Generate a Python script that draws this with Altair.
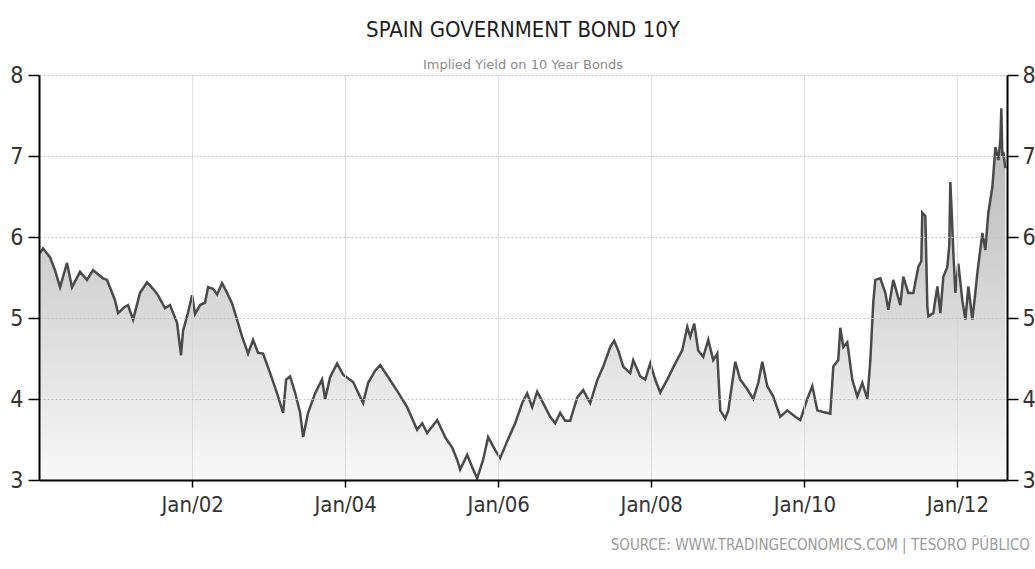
import altair as alt
import pandas as pd

# decimal years since 2000-01-01 and yield values (%)
t_years = [
    0.013, 0.052, 0.144, 0.209, 0.275, 0.366, 0.431, 0.536, 0.627, 0.706,
    0.837, 0.889, 0.993, 1.033, 1.124, 1.163, 1.229, 1.320, 1.412, 1.490,
    1.556, 1.647, 1.712, 1.804, 1.856, 1.882, 1.948, 2.000, 2.039, 2.105,
    2.170, 2.209, 2.275, 2.327, 2.392, 2.458, 2.523, 2.588, 2.654, 2.732,
    2.797, 2.863, 2.928, 3.020, 3.111, 3.190, 3.229, 3.281, 3.346, 3.412,
    3.451, 3.516, 3.608, 3.699, 3.739, 3.804, 3.895, 3.974, 4.105, 4.235,
    4.301, 4.392, 4.458, 4.549, 4.680, 4.810, 4.941, 5.007, 5.072, 5.203,
    5.307, 5.399, 5.464, 5.503, 5.595, 5.660, 5.725, 5.804, 5.869, 5.961,
    6.026, 6.118, 6.222, 6.314, 6.379, 6.444, 6.510, 6.588, 6.680, 6.745,
    6.810, 6.876, 6.941, 7.033, 7.111, 7.203, 7.294, 7.373, 7.464, 7.516,
    7.569, 7.634, 7.725, 7.765, 7.856, 7.922, 7.987, 8.052, 8.118, 8.209,
    8.314, 8.405, 8.471, 8.510, 8.562, 8.614, 8.680, 8.745, 8.810, 8.863,
    8.902, 8.967, 9.007, 9.059, 9.098, 9.163, 9.255, 9.333, 9.399, 9.451,
    9.516, 9.595, 9.686, 9.778, 9.882, 9.948, 10.039, 10.105, 10.170, 10.248,
    10.340, 10.379, 10.444, 10.471, 10.510, 10.562, 10.627, 10.693, 10.758, 10.824,
    10.863, 10.902, 10.928, 10.993, 11.059, 11.098, 11.163, 11.255, 11.294, 11.359,
    11.425, 11.490, 11.529, 11.542, 11.582, 11.608, 11.621, 11.686, 11.739, 11.778,
    11.817, 11.869, 11.895, 11.908, 11.922, 11.948, 11.974, 12.013, 12.065, 12.105,
    12.144, 12.196, 12.235, 12.261, 12.327, 12.366, 12.405, 12.458, 12.497, 12.536,
    12.562, 12.575, 12.588, 12.601, 12.627,
]
yields = [
    5.80, 5.86, 5.75, 5.59, 5.38, 5.68, 5.38, 5.57, 5.47, 5.59,
    5.49, 5.47, 5.22, 5.06, 5.14, 5.16, 4.98, 5.31, 5.44, 5.36,
    5.28, 5.12, 5.16, 4.94, 4.54, 4.84, 5.07, 5.28, 5.05, 5.16,
    5.19, 5.38, 5.36, 5.29, 5.43, 5.31, 5.18, 4.98, 4.77, 4.56,
    4.73, 4.57, 4.56, 4.32, 4.07, 3.83, 4.24, 4.28, 4.08, 3.83,
    3.53, 3.83, 4.07, 4.24, 4.00, 4.27, 4.44, 4.30, 4.21, 3.95,
    4.20, 4.35, 4.42, 4.29, 4.10, 3.90, 3.62, 3.70, 3.58, 3.74,
    3.53, 3.40, 3.25, 3.13, 3.31, 3.16, 3.02, 3.25, 3.53, 3.37,
    3.27, 3.48, 3.70, 3.95, 4.07, 3.90, 4.09, 3.95, 3.78, 3.70,
    3.83, 3.73, 3.73, 4.02, 4.11, 3.95, 4.23, 4.40, 4.64, 4.72,
    4.60, 4.40, 4.32, 4.48, 4.28, 4.24, 4.44, 4.24, 4.08, 4.24,
    4.44, 4.60, 4.89, 4.77, 4.93, 4.60, 4.52, 4.73, 4.48, 4.56,
    3.86, 3.76, 3.86, 4.20, 4.46, 4.24, 4.12, 4.00, 4.20, 4.46,
    4.16, 4.03, 3.78, 3.86, 3.78, 3.74, 4.00, 4.16, 3.86, 3.84,
    3.82, 4.40, 4.48, 4.88, 4.64, 4.70, 4.24, 4.03, 4.20, 4.00,
    4.48, 5.20, 5.47, 5.49, 5.31, 5.10, 5.47, 5.16, 5.51, 5.31,
    5.31, 5.63, 5.70, 6.30, 6.26, 5.14, 5.02, 5.06, 5.39, 5.06,
    5.51, 5.63, 5.90, 6.68, 6.40, 5.80, 5.31, 5.67, 5.22, 4.98,
    5.39, 4.98, 5.31, 5.55, 6.05, 5.84, 6.30, 6.62, 7.11, 6.95,
    7.20, 7.59, 7.00, 7.05, 6.85,
]

tick_years = [2002, 2004, 2006, 2008, 2010, 2012]
y_ticks = [3, 4, 5, 6, 7, 8]
y_base = 3

title_text = "SPAIN GOVERNMENT BOND 10Y"
subtitle_text = "Implied Yield on 10 Year Bonds"
source_text = "SOURCE:  WWW.TRADINGECONOMICS.COM  |  TESORO  PÚBLICO"

start = pd.Timestamp("2000-01-01")
df = pd.DataFrame({
    "date": [start + pd.Timedelta(days=t * 365.25) for t in t_years],
    "v": yields,
})

NARROW = "'Liberation Sans Narrow', 'DejaVu Sans Condensed', 'Arial Narrow', sans-serif"

xscale = alt.Scale(domain=[alt.DateTime(year=2000, month=1, date=1),
                           alt.DateTime(year=2012, month=8, date=25)])
yscale = alt.Scale(domain=[3, 8], nice=False, zero=False)

x_axis = alt.Axis(
    values=[alt.DateTime(year=y, month=1, date=1) for y in tick_years],
    format="%b/%y", title=None, tickSize=7, tickColor="black", tickWidth=1.5,
    domainColor="black", domainWidth=2, labelFont=NARROW, labelFontSize=22,
    labelColor="#333333", labelPadding=7, grid=True, gridColor="#d6d6d6",
    gridWidth=1, gridOpacity=0.8, zindex=1,
)
left_axis = alt.Axis(
    values=y_ticks, orient="left", title=None, tickSize=11, tickColor="black",
    tickWidth=1.5, domainColor="black", domainWidth=2, labelFont=NARROW,
    labelFontSize=23, labelColor="#333333", labelPadding=5, grid=True,
    gridColor="#c2c2c2", gridDash=[2, 2], gridWidth=1, zindex=1,
)
right_axis = alt.Axis(
    values=y_ticks, orient="right", title=None, tickSize=11, tickColor="black",
    tickWidth=1.5, domainColor="black", domainWidth=2, labelFont=NARROW,
    labelFontSize=23, labelColor="#333333", labelPadding=4, grid=False, zindex=1,
)

gradient = alt.Gradient(
    gradient="linear",
    stops=[alt.GradientStop(color="#b4b4b4", offset=0),
           alt.GradientStop(color="#d6d6d6", offset=0.5),
           alt.GradientStop(color="#f8f8f8", offset=1)],
    x1=1, x2=1, y1=0, y2=1,
)

area = alt.Chart(df).mark_area(fill=gradient, clip=True).encode(
    x=alt.X("date:T", scale=xscale, axis=x_axis),
    y=alt.Y("v:Q", scale=yscale, axis=left_axis),
    y2=alt.datum(y_base),
)
line = alt.Chart(df).mark_line(color="#4a4a4a", strokeWidth=2.5, clip=True).encode(
    x=alt.X("date:T", scale=xscale, axis=x_axis),
    y=alt.Y("v:Q", scale=yscale, axis=right_axis),
)
source = alt.Chart(pd.DataFrame({"s": [source_text]})).mark_text(
    align="right", baseline="middle", font=NARROW, fontSize=15, color="#9a9a9a",
).encode(x=alt.value(991), y=alt.value(470), text="s:N")

chart = alt.layer(area, line, source).resolve_axis(y="independent").properties(
    width=968, height=405,
    autosize=alt.AutoSizeParams(type="none"),
    padding={"left": 39, "top": 75, "right": 28, "bottom": 89},
    background="white",
    title=alt.TitleParams(
        text=title_text, subtitle=subtitle_text, anchor="middle",
        font=NARROW, fontSize=22, fontWeight="normal", color="#1e1e1e",
        subtitleFont="DejaVu Sans", subtitleFontSize=13, subtitleColor="#8a8a8a",
        subtitlePadding=17, offset=4, dy=13,
    ),
).configure_view(stroke=None)

chart.save("out.html", embed_options={"renderer": "svg", "actions": False})
